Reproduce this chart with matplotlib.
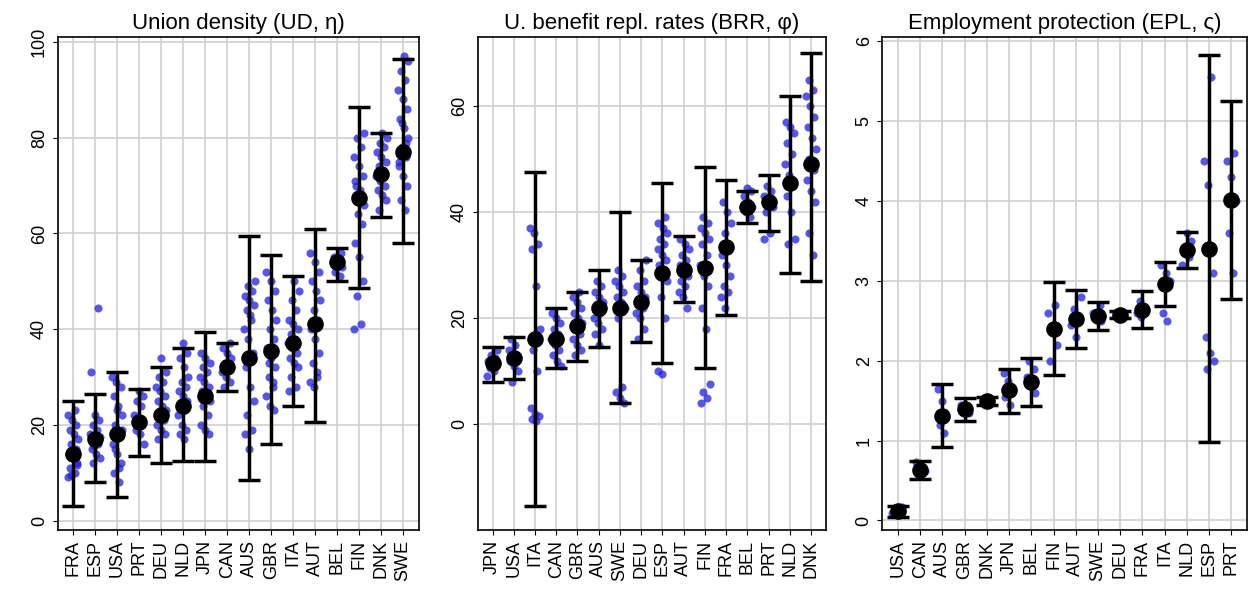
import numpy as np
import matplotlib.pyplot as plt

plt.rcParams['font.family'] = ['Liberation Sans', 'DejaVu Sans']

# ---- Union density ----
ud_c = ['FRA','ESP','USA','PRT','DEU','NLD','JPN','CAN','AUS','GBR','ITA','AUT','BEL','FIN','DNK','SWE']
ud_mean = [14, 17, 18, 20.5, 22, 24, 26, 32, 34, 35.5, 37, 41, 54, 67.5, 72.5, 77]
ud_lo = [3, 8, 5, 13.5, 12, 12.5, 12.5, 27, 8.5, 16, 24, 20.5, 50, 48.5, 63.5, 58]
ud_hi = [25, 26.5, 31, 27.5, 32, 36, 39.5, 37, 59.5, 55.5, 51, 61, 57, 86.5, 81, 96.5]
ud_pts = [
    [9, 10, 11, 12, 13, 14, 15, 16, 17, 18, 19, 20, 21, 22, 23, 9.5, 11.5, 13.5],
    [12, 13, 14, 15, 16, 17, 18, 19, 20, 21, 22, 31, 44.5, 15.5, 17.5],
    [8, 10, 12, 14, 16, 18, 20, 22, 24, 26, 28, 29, 30, 11, 15, 19, 23],
    [16, 18, 19, 20, 21, 22, 24, 25, 26, 27],
    [17, 18, 19, 20, 21, 22, 23, 24, 25, 26, 27, 28, 29, 30, 31, 34],
    [17, 18, 19, 20, 22, 23, 24, 25, 26, 27, 28, 29, 30, 32, 34, 35, 37],
    [18, 19, 20, 22, 24, 25, 26, 27, 28, 29, 30, 31, 32, 33, 34, 35],
    [28, 29, 30, 31, 32, 33, 34, 35, 36, 37],
    [15, 18, 19, 22, 25, 28, 32, 35, 38, 40, 42, 44, 45, 46, 47, 48, 49, 50, 43],
    [23, 24, 26, 28, 30, 32, 34, 36, 38, 40, 42, 44, 46, 48, 50, 52, 29, 33],
    [27, 28, 30, 32, 33, 34, 35, 36, 37, 38, 39, 40, 41, 42, 44, 46, 48, 50],
    [28, 29, 30, 33, 35, 38, 40, 42, 44, 46, 48, 50, 52, 54, 56, 31],
    [51, 52, 53, 54, 55, 56],
    [40, 41, 47, 50, 55, 58, 62, 64, 66, 68, 70, 72, 74, 76, 78, 80, 81, 69, 71],
    [65, 67, 68, 69, 70, 71, 72, 73, 74, 75, 76, 77, 78, 79, 80, 81],
    [65, 67, 70, 72, 74, 76, 78, 80, 82, 84, 86, 88, 90, 92, 94, 96, 97, 75, 79, 83],
]

# ---- Benefit replacement rates ----
brr_c = ['JPN','USA','ITA','CAN','GBR','AUS','SWE','DEU','ESP','AUT','FIN','FRA','BEL','PRT','NLD','DNK']
brr_mean = [11.5, 12.5, 16, 16, 18.5, 22, 22, 23, 28.5, 29, 29.5, 33.5, 41, 42, 45.5, 49]
brr_lo = [8, 8.5, -15.5, 10.5, 12, 14.5, 4, 15.5, 11.5, 23, 10.5, 20.5, 38, 36.5, 28.5, 27]
brr_hi = [14.5, 16.5, 47.5, 22, 25, 29, 40, 31, 45.5, 35.5, 48.5, 46, 44, 47, 62, 70]
brr_pts = [
    [9, 10, 10.5, 11, 11.5, 12, 12.5, 13, 14],
    [8, 10, 11, 12, 12.5, 13, 14, 15, 16],
    [0.5, 1, 1.5, 2, 3, 10, 14, 18, 26, 33, 34, 36, 37],
    [11, 12, 13, 14, 15, 16, 17, 18, 19, 20, 21],
    [13, 14, 15, 16, 17, 18, 19, 20, 21, 22, 23, 24, 25],
    [15, 17, 18, 19, 20, 21, 22, 23, 24, 25, 26, 27],
    [4, 5, 6, 7, 20, 22, 23, 24, 25, 26, 27, 28, 29],
    [16, 18, 20, 21, 22, 23, 24, 25, 26, 27, 29, 31],
    [9.5, 10, 20, 24, 27, 29, 30, 31, 32, 33, 34, 35, 36, 37, 38, 39],
    [22, 24, 25, 26, 27, 28, 29, 30, 31, 32, 33, 34, 35],
    [4, 5, 6, 7.5, 18, 22, 26, 28, 30, 32, 34, 35, 36, 37, 38, 39],
    [22, 24, 25, 26, 28, 30, 32, 34, 36, 38, 40, 42],
    [39, 40, 41, 42, 43, 44, 44.5],
    [35, 36, 40, 41, 42, 43, 44, 45],
    [34, 35, 40, 43, 45, 47, 49, 51, 53, 55, 56, 57],
    [32, 36, 42, 44, 46, 48, 50, 52, 54, 56, 58, 60, 62, 63, 65],
]

# ---- Employment protection ----
epl_c = ['USA','CAN','AUS','GBR','DNK','JPN','BEL','FIN','AUT','SWE','DEU','FRA','ITA','NLD','ESP','PRT']
epl_mean = [0.12, 0.63, 1.31, 1.39, 1.5, 1.63, 1.73, 2.4, 2.52, 2.56, 2.57, 2.64, 2.96, 3.39, 3.4, 4.01]
epl_lo = [0.05, 0.52, 0.92, 1.25, 1.45, 1.35, 1.43, 1.82, 2.16, 2.38, 2.53, 2.41, 2.68, 3.16, 0.98, 2.77]
epl_hi = [0.18, 0.74, 1.71, 1.53, 1.55, 1.9, 2.03, 2.98, 2.88, 2.74, 2.62, 2.87, 3.24, 3.61, 5.83, 5.25]
epl_pts = [
    [0.1, 0.12, 0.15, 0.17],
    [0.58, 0.62, 0.68, 0.73],
    [1.1, 1.2, 1.3, 1.5, 1.65],
    [1.35, 1.4, 1.45],
    [1.48, 1.5, 1.52],
    [1.45, 1.55, 1.65, 1.75, 1.85],
    [1.6, 1.7, 1.8, 1.9, 2.0],
    [2.0, 2.2, 2.4, 2.6, 2.7],
    [2.3, 2.45, 2.55, 2.65, 2.8],
    [2.5, 2.55, 2.6, 2.7],
    [2.55, 2.58, 2.6],
    [2.55, 2.6, 2.65, 2.75],
    [2.5, 2.6, 3.0, 3.1, 3.2],
    [3.2, 3.3, 3.4, 3.5, 3.6],
    [1.9, 2.0, 2.1, 2.3, 3.1, 4.2, 4.5, 5.55],
    [3.1, 3.6, 4.0, 4.3, 4.5, 4.6],
]

panels = [
    ('Union density (UD, \u03b7)', ud_c, ud_mean, ud_lo, ud_hi, ud_pts, (-2, 101), [0, 20, 40, 60, 80, 100]),
    ('U. benefit repl. rates (BRR, \u03c6)', brr_c, brr_mean, brr_lo, brr_hi, brr_pts, (-20, 73), [0, 20, 40, 60]),
    ('Employment protection (EPL, \u03c2)', epl_c, epl_mean, epl_lo, epl_hi, epl_pts, (-0.12, 6.05), [0, 1, 2, 3, 4, 5, 6]),
]
lefts = [0.046, 0.380, 0.702]
widths = [0.287, 0.277, 0.290]

fig = plt.figure(figsize=(12.57, 6.01), dpi=100)
for (title, cats, mean, lo, hi, pts, ylim, yt), l, w in zip(panels, lefts, widths):
    ax = fig.add_axes([l, 0.118, w, 0.82])
    x = np.arange(len(cats))
    for i, vals in enumerate(pts):
        jit = [((k * 0.618 + i * 0.31) % 1 - 0.5) * 0.5 for k in range(len(vals))]
        ax.scatter(x[i] + np.array(jit), vals, s=34, color='#1f1fe0', alpha=0.75, lw=0, zorder=2)
    mean = np.array(mean)
    ax.errorbar(x, mean, yerr=[mean - np.array(lo), np.array(hi) - mean], fmt='none',
                ecolor='black', elinewidth=2.5, capsize=8, capthick=2.5, zorder=3)
    ax.scatter(x, mean, s=120, color='black', zorder=4)
    ax.set_xticks(x)
    ax.set_xticklabels(cats, rotation=90, fontsize=13)
    ax.set_yticks(yt)
    ax.set_yticklabels([str(v) for v in yt], rotation=90, va='center', fontsize=13)
    ax.set_xlim(-0.7, len(cats) - 0.3)
    ax.set_ylim(*ylim)
    ax.grid(True, color='#d0d0d0', lw=1.2)
    ax.set_axisbelow(True)
    ax.set_title(title, fontsize=16, pad=6)
    for s in ax.spines.values():
        s.set_linewidth(1.2)

fig.savefig('out.png', dpi=100)
